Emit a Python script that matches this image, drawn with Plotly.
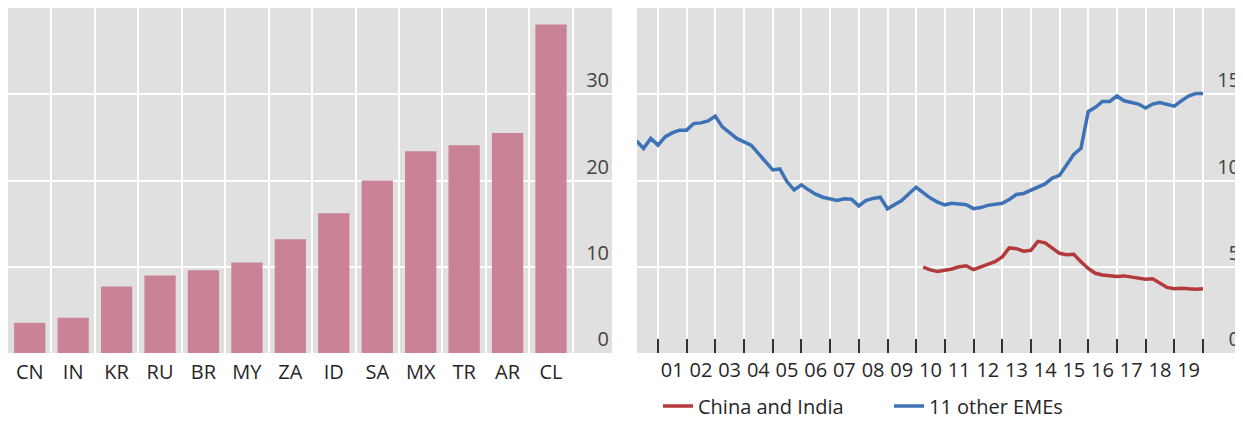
import pandas as pd
import plotly.graph_objects as go

# left panel: bars by country
countries = ["CN", "IN", "KR", "RU", "BR", "MY", "ZA", "ID", "SA", "MX", "TR", "AR", "CL"]
bar_values = [3.5, 4.1, 7.7, 9.0, 9.6, 10.5, 13.2, 16.2, 20.0, 23.4, 24.1, 25.5, 38.1]
left_ticks = [0, 10, 20, 30]

# right panel: quarterly series, Q1 2000 to Q4 2019
quarters = pd.date_range("2000-03-31", periods=80, freq="QE")
other_emes = [
    12.3, 11.86, 12.44,
    12.05, 12.53, 12.76, 12.92,
    12.92, 13.3, 13.34, 13.45,
    13.73, 13.11, 12.76, 12.44,
    12.24, 12.05, 11.57, 11.09,
    10.61, 10.67, 9.94, 9.46,
    9.75, 9.46, 9.21, 9.03,
    8.94, 8.84, 8.94, 8.92,
    8.53, 8.84, 8.96, 9.03,
    8.36, 8.59, 8.84, 9.23,
    9.61, 9.3, 8.98, 8.75,
    8.59, 8.68, 8.64, 8.6,
    8.37, 8.43, 8.56, 8.64,
    8.68, 8.9, 9.19, 9.25,
    9.42, 9.61, 9.8, 10.14,
    10.3, 10.9, 11.51, 11.86,
    13.99, 14.24, 14.58, 14.58,
    14.9, 14.62, 14.5, 14.43,
    14.2, 14.43, 14.52, 14.43,
    14.31, 14.62, 14.9, 15.04,
    15.04,
]
china_india = [None] * 40 + [
    4.98, 4.82, 4.72,
    4.79, 4.87, 5.0, 5.06,
    4.83, 5.0, 5.13, 5.29,
    5.57, 6.09, 6.05, 5.9,
    5.95, 6.47, 6.39, 6.09,
    5.78, 5.7, 5.72, 5.29,
    4.9, 4.62, 4.52, 4.48,
    4.43, 4.47, 4.39, 4.33,
    4.28, 4.3, 4.05, 3.8,
    3.72, 3.76, 3.72, 3.69,
    3.72,
]
right_ticks = [0, 5, 10, 15]
year_labels = ["%02d" % y for y in range(1, 20)]
year_mid = ["20%s-07-01" % y for y in year_labels]
year_starts = ["%d-01-01" % y for y in range(2001, 2021)]

grey = "#e0e0e0"
text_col = "#262626"
font = "Open Sans"

# the page body has an 8px margin, so the figure is 8px smaller than the window
W, H = 1235, 414

fig = go.Figure()
fig.add_trace(go.Bar(x=countries, y=bar_values, marker_color="#c98394",
                     showlegend=False, xaxis="x", yaxis="y"))
fig.add_trace(go.Scatter(x=quarters, y=china_india, mode="lines", name="China and India",
                         line=dict(color="#b3393a", width=3.5), xaxis="x2", yaxis="y2"))
fig.add_trace(go.Scatter(x=quarters, y=other_emes, mode="lines", name="11 other EMEs",
                         line=dict(color="#3d72b6", width=3.5), xaxis="x2", yaxis="y2"))

ydom = [69 / H, 1.0]

fig.update_layout(
    template="none",
    width=W, height=H,
    margin=dict(l=0, r=0, t=0, b=0, autoexpand=False),
    paper_bgcolor="white", plot_bgcolor=grey,
    font=dict(family=font, size=20, color=text_col),
    bargap=0.28,
    xaxis=dict(domain=[0, 604 / W], type="category", range=[-0.5, 13.404],
               automargin=False, tickson="boundaries", ticks="", showgrid=True,
               gridcolor="white", gridwidth=2, showline=False, zeroline=False,
               ticklabelstandoff=5),
    yaxis=dict(domain=ydom, range=[0, 40], tickmode="array", tickvals=left_ticks,
               side="right", anchor="x", automargin=False,
               ticklabelposition="inside", ticklabelshift=-14, ticklabeloverflow="allow",
               showgrid=True, gridcolor="white", gridwidth=2, zeroline=False, ticks=""),
    xaxis2=dict(domain=[629 / W, 1.0], type="date", range=["2000-04-08", "2021-05-24"],
                anchor="y2", automargin=False, tickmode="array", tickvals=year_mid,
                ticktext=year_labels, ticks="", showgrid=False, zeroline=False,
                showline=False, ticklabelstandoff=3,
                minor=dict(tickmode="array", tickvals=year_starts, ticks="inside", ticklen=14,
                           tickwidth=2, tickcolor="#333333", showgrid=True,
                           gridcolor="white", gridwidth=2)),
    yaxis2=dict(domain=ydom, range=[0, 20], tickmode="array", tickvals=right_ticks,
                side="right", anchor="x2", automargin=False,
                ticklabelposition="inside", ticklabelshift=-14, ticklabeloverflow="allow",
                showgrid=True, gridcolor="white", gridwidth=2, zeroline=False, ticks=""),
    legend=dict(orientation="h", x=650 / W, xanchor="left", y=16 / H, yanchor="middle",
                bgcolor="rgba(0,0,0,0)", font=dict(size=20, color=text_col),
                entrywidth=186, entrywidthmode="pixels"),
    showlegend=True,
)

fig.write_html("out.html")
